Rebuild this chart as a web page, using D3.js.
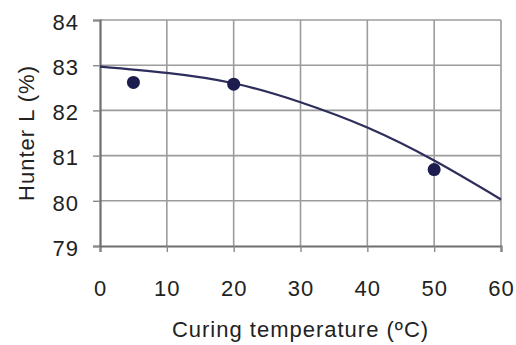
<!DOCTYPE html>
<html>
<head>
<meta charset="utf-8">
<script src="https://cdn.jsdelivr.net/npm/d3@7"></script>
<style>
  html, body { margin: 0; padding: 0; background: #fff; }
  svg { display: block; }
  text { font-family: "Liberation Sans", Arial, sans-serif; fill: #222; }
</style>
</head>
<body>
<script>
// measured points
const tempPoints = [5, 20, 50];
const hunterL = [82.62, 82.58, 80.69];

// fitted curve
const trendTemps = [0, 10, 20, 30, 40, 50, 60];
const trendL = [82.97, 82.83, 82.6, 82.18, 81.62, 80.89, 80.03];

const xTicks = [0, 10, 20, 30, 40, 50, 60];
const yTicks = [79, 80, 81, 82, 83, 84];

const width = 516
const height = 345
const margin = { top: 20, right: 15, bottom: 99, left: 100 }
const innerW = width - margin.left - margin.right
const innerH = height - margin.top - margin.bottom

const svg = d3.select('body')
    .append('svg')
    .attr('width', width)
    .attr('height', height);

const g = svg.append('g')
    .attr('transform', `translate(${margin.left}, ${margin.top})`);

const x = d3.scaleLinear().domain([0, 60]).range([0, innerW]);
const y = d3.scaleLinear().domain([79, 84]).range([innerH, 0]);

// grid
g.append('g')
    .selectAll('line')
    .data(xTicks.slice(1))
    .join('line')
    .attr('x1', d => x(d)).attr('x2', d => x(d))
    .attr('y1', 0).attr('y2', innerH)
    .attr('stroke', '#9c9c9c')
    .attr('stroke-width', 1.6);

g.append('g')
    .selectAll('line')
    .data(yTicks.slice(1))
    .join('line')
    .attr('x1', 0).attr('x2', innerW)
    .attr('y1', d => y(d)).attr('y2', d => y(d))
    .attr('stroke', '#9c9c9c')
    .attr('stroke-width', 1.6);

// axes
const xAxis = d3.axisBottom(x).tickValues(xTicks).tickFormat(d3.format('d')).tickSize(6).tickPadding(28);
const yAxis = d3.axisLeft(y).tickValues(yTicks).tickFormat(d3.format('d')).tickSize(7).tickPadding(14);

const xg = g.append('g')
    .attr('transform', `translate(0, ${innerH})`)
    .call(xAxis);
const yg = g.append('g').call(yAxis);

[xg, yg].forEach(a => {
    a.select('.domain').attr('stroke', '#6e6e6e').attr('stroke-width', 2.2);
    a.selectAll('.tick line').attr('stroke', '#8a8a8a').attr('stroke-width', 1.4);
    a.selectAll('.tick text')
        .style('font-family', '"Liberation Sans", Arial, sans-serif')
        .style('font-size', '22px')
        .style('letter-spacing', '1px')
        .attr('fill', '#222');
});
yg.selectAll('.tick text').attr('dy', '0.42em');

// trend curve
const line = d3.line()
    .curve(d3.curveNatural)
    .x((d, i) => x(trendTemps[i]))
    .y(d => y(d));

g.append('path')
    .datum(trendL)
    .attr('fill', 'none')
    .attr('stroke', '#2e2e5c')
    .attr('stroke-width', 2.2)
    .attr('d', line);

// points
g.append('g')
    .selectAll('circle')
    .data(hunterL)
    .join('circle')
    .attr('cx', (d, i) => x(tempPoints[i]))
    .attr('cy', d => y(d))
    .attr('r', 6.5)
    .attr('fill', '#1c1c4e');

// axis titles
svg.append('text')
    .attr('x', margin.left + innerW / 2)
    .attr('y', 337)
    .attr('text-anchor', 'middle')
    .style('font-size', '22px')
    .style('letter-spacing', '1px')
    .text('Curing temperature (ºC)');

svg.append('text')
    .attr('transform', `translate(34, ${margin.top + innerH / 2}) rotate(-90)`)
    .attr('text-anchor', 'middle')
    .style('font-size', '22px')
    .style('letter-spacing', '1px')
    .text('Hunter L (%)');
</script>
</body>
</html>
